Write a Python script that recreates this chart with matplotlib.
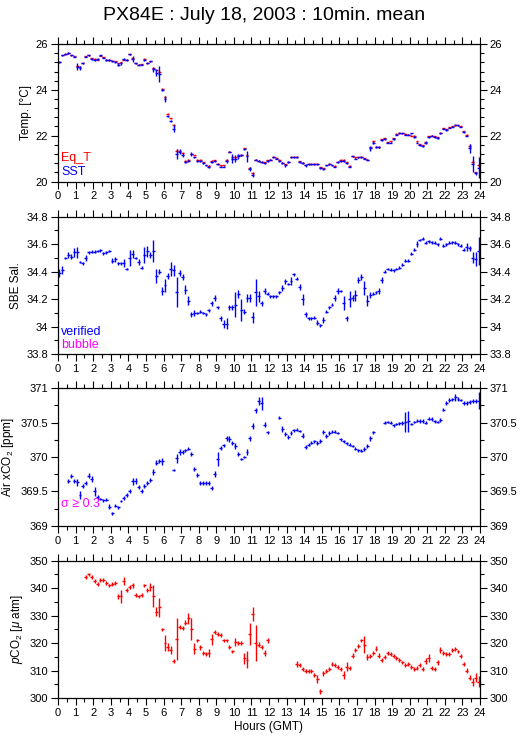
import numpy as np
import matplotlib
matplotlib.use("Agg")
import matplotlib.pyplot as plt
from matplotlib.ticker import MultipleLocator, FuncFormatter

plt.rcParams['font.family'] = ['Liberation Sans', 'DejaVu Sans']
plt.rcParams['mathtext.fontset'] = 'custom'
plt.rcParams['mathtext.rm'] = 'Liberation Sans'
plt.rcParams['mathtext.it'] = 'Liberation Sans:italic'

nan = np.nan
# 10-minute means, 144 per day, centred at (i + 0.5) / 6 hours
hours = (np.arange(144) + 0.5) / 6.0

sst = [25.2, 25.5, 25.55, 25.6, 25.5, 25.45,
       25.0, 24.95, 25.15, 25.45, 25.5, 25.35,
       25.3, 25.35, 25.5, 25.4, 25.3, 25.3,
       25.25, 25.2, 25.1, 25.15, 25.35, 25.3,
       25.55, 25.35, 25.15, 25.1, 25.1, 25.3,
       25.15, 25.25, 24.9, 24.75, 24.7, 24.0,
       23.6, 22.85, 22.65, 22.3, 21.2, 21.3,
       21.15, 20.85, 20.9, 21.2, 21.05, 20.9,
       20.9, 20.8, 20.7, 20.65, 20.85, 20.9,
       20.75, 20.65, 20.65, 20.9, 21.3, 21.0,
       21.0, 21.1, 21.15, 21.4, 21.1, 20.55,
       20.3, 20.95, 20.9, 20.85, 20.8, 20.9,
       20.95, 21.05, 21.0, 20.9, 20.8, 20.7,
       20.85, 21.05, 21.05, 21.05, 20.85, 20.8,
       20.7, 20.75, 20.75, 20.75, 20.75, 20.6,
       20.55, 20.7, 20.75, 20.7, 20.65, 20.85,
       20.9, 20.9, 20.8, 20.65, 21.1, 21.0,
       21.05, 21.05, 21.0, 20.95, 21.45, 21.7,
       21.5, 21.5, 21.8, 21.85, 21.7, 21.7,
       21.85, 22.05, 22.1, 22.1, 22.05, 22.05,
       22.1, 21.95, 21.7, 21.6, 21.55, 21.7,
       21.95, 22.0, 21.95, 21.9, 22.1, 22.3,
       22.25, 22.35, 22.4, 22.45, 22.45, 22.4,
       22.15, 22.0, 21.45, 20.75, 20.35, 20.6]
sst_err = [.03, .03, .03, .03, .03, .03,
           .15, .1, .03, .03, .03, .03,
           .03, .05, .03, .03, .03, .03,
           .03, .03, .05, .05, .03, .03,
           .03, .12, .03, .03, .03, .03,
           .03, .03, .1, .15, .35, .05,
           .12, .05, .05, .15, .22, .1,
           .1, .05, .03, .1, .03, .05,
           .03, .03, .03, .05, .03, .03,
           .03, .03, .03, .1, .03, .2,
           .15, .1, .05, .03, .25, .08,
           .1, .03, .03, .05, .03, .03,
           .03, .03, .03, .03, .05, .05,
           .03, .03, .03, .03, .03, .03,
           .05, .03, .03, .03, .03, .05,
           .05, .03, .03, .03, .03, .03,
           .03, .03, .05, .03, .03, .03,
           .03, .03, .03, .03, .1, .05,
           .03, .03, .05, .03, .03, .03,
           .05, .03, .03, .03, .03, .03,
           .03, .05, .03, .03, .03, .05,
           .03, .03, .03, .03, .03, .03,
           .03, .03, .03, .03, .03, .03,
           .05, .03, .2, .35, .05, .45]
eqt = [25.22, 25.52, 25.58, 25.6, 25.52, 25.47,
       25.05, 25.0, 25.18, 25.47, 25.5, 25.38,
       25.35, 25.32, 25.48, 25.42, 25.32, 25.3,
       25.28, 25.25, 25.15, 25.2, 25.32, 25.32,
       25.55, 25.38, 25.15, 25.1, 25.12, 25.35,
       25.18, 25.25, 24.95, 24.85, 24.8, 24.05,
       23.7, 22.95, 22.75, 22.45, 21.35, 21.35,
       21.25, 20.9, 20.95, 21.2, 21.15, 20.95,
       20.95, 20.85, 20.72, 20.68, 20.9, 20.92,
       20.78, 20.7, 20.7, 20.92, 21.3, 21.05,
       21.05, 21.15, 21.15, 21.45, 21.15, 20.6,
       20.35, 20.95, 20.9, 20.85, 20.85, 20.92,
       20.95, 21.08, 21.03, 20.95, 20.82, 20.75,
       20.85, 21.08, 21.08, 21.08, 20.88, 20.82,
       20.72, 20.78, 20.78, 20.78, 20.78, 20.62,
       20.58, 20.72, 20.78, 20.72, 20.68, 20.85,
       20.95, 20.95, 20.85, 20.68, 21.1, 21.05,
       21.05, 21.08, 21.02, 20.95, 21.5, 21.75,
       21.52, 21.5, 21.85, 21.88, 21.72, 21.75,
       21.88, 22.08, 22.12, 22.1, 22.08, 22.05,
       22.0, 22.0, 21.75, 21.62, 21.58, 21.72,
       21.98, 22.0, 21.98, 21.92, 22.12, 22.32,
       22.28, 22.38, 22.42, 22.48, 22.45, 22.42,
       22.2, 22.05, 21.55, 20.85, 20.4, 20.7]
eqt_err = [.02] * 36 + [.05, .02, .02, .05, .05, .02] + [.02] * 96 + [.02, .02, .1, .1, .02, .02]

sal = [34.39, 34.41, 34.5, 34.52, 34.51, 34.54,
       34.54, 34.47, 34.46, 34.5, 34.54, 34.545,
       34.545, 34.55, 34.555, 34.535, 34.54, 34.55,
       34.48, 34.49, 34.46, 34.46, 34.465, 34.42,
       34.5, 34.53, 34.5, 34.47, 34.43, 34.52,
       34.55, 34.52, 34.55, 34.37, 34.4, 34.26,
       34.3, 34.37, 34.42, 34.41, 34.25, 34.39,
       34.36, 34.27, 34.19, 34.09, 34.1, 34.1,
       34.11, 34.1, 34.09, 34.12, 34.17, 34.21,
       34.14, 34.06, 34.02, 34.02, 34.14, 34.14,
       34.16, 34.24, 34.12, 34.11, 34.21, 34.21,
       34.07, 34.25, 34.22, 34.17, 34.26, 34.24,
       34.22, 34.22, 34.22, 34.25, 34.28, 34.33,
       34.31, 34.33, 34.38, 34.35, 34.29, 34.2,
       34.09, 34.06, 34.06, 34.065, 34.03, 34.01,
       34.05, 34.11, 34.14, 34.16, 34.21, 34.26,
       34.26, 34.17, 34.06, 34.2, 34.21, 34.23,
       34.34, 34.36, 34.28, 34.19, 34.23, 34.24,
       34.25, 34.26, 34.34, 34.4, 34.42, 34.415,
       34.41, 34.42, 34.43, 34.45, 34.48, 34.48,
       34.53, 34.56, 34.6, 34.63, 34.64, 34.61,
       34.62, 34.615, 34.61, 34.6, 34.64, 34.59,
       34.6, 34.61, 34.615, 34.61, 34.6, 34.59,
       34.56, 34.58, 34.57, 34.5, 34.49, 34.55]
sal_err = [.03, .03, .01, .02, .02, .03,
           .04, .01, .01, .02, .01, .01,
           .01, .01, .01, .01, .01, .01,
           .02, .02, .01, .01, .03, .01,
           .06, .03, .01, .02, .01, .06,
           .04, .02, .08, .05, .02, .03,
           .05, .02, .05, .04, .11, .02,
           .02, .03, .03, .02, .02, .01,
           .01, .01, .01, .01, .02, .02,
           .01, .02, .03, .04, .02, .02,
           .09, .03, .08, .02, .03, .03,
           .04, .1, .04, .02, .02, .01,
           .01, .01, .01, .01, .02, .02,
           .01, .03, .01, .01, .02, .04,
           .02, .01, .01, .01, .02, .01,
           .02, .01, .01, .01, .02, .02,
           .01, .05, .02, .06, .02, .04,
           .02, .02, .05, .04, .02, .01,
           .01, .02, .02, .01, .01, .01,
           .01, .01, .01, .01, .01, .01,
           .01, .01, .02, .01, .01, .01,
           .01, .01, .01, .01, .01, .01,
           .01, .01, .01, .01, .01, .01,
           .01, .03, .02, .04, .05, .1]

xco2 = [nan, nan, nan, 369.65, 369.72, 369.65,
        369.63, 369.45, 369.58, 369.62, 369.73, 369.68,
        369.5, 369.42, 369.39, 369.37, 369.38, 369.28,
        369.18, 369.29, 369.27, 369.36, 369.4, 369.45,
        369.5, 369.65, 369.65, 369.57, 369.5, 369.58,
        369.62, 369.67, 369.78, 369.92, 369.94, 369.94,
        nan, nan, nan, 369.81, 369.98, 370.07,
        370.07, 370.1, 370.12, 370.04, 369.82, 369.74,
        369.62, 369.62, 369.62, 369.62, 369.55, 369.75,
        369.97, 370.13, 370.17, 370.27, 370.26, 370.2,
        370.16, 370.05, 369.97, 370.0, 370.07, 370.27,
        370.45, 370.68, 370.82, 370.78, 370.47, 370.36,
        nan, nan, nan, 370.57, 370.41, 370.33,
        370.29, 370.35, 370.39, 370.4, 370.38, 370.31,
        370.14, 370.18, 370.21, 370.23, 370.2, 370.23,
        370.37, 370.3, 370.35, 370.37, 370.37, 370.35,
        370.26, 370.23, 370.2, 370.18, 370.16, 370.12,
        370.1, 370.09, 370.12, 370.16, 370.27, 370.36,
        nan, nan, nan, 370.5, 370.51, 370.5,
        370.46, 370.48, 370.49, 370.5, 370.51, 370.52,
        370.48, 370.51, 370.53, 370.53, 370.53, 370.5,
        370.56, 370.55, 370.52, 370.51, 370.54, 370.69,
        370.78, 370.83, 370.84, 370.87, 370.84, 370.83,
        370.78, 370.78, 370.8, 370.81, 370.81, 370.82]
xco2_err = [.03, .03, .03, .03, .03, .03,
            .05, .06, .03, .03, .04, .04,
            .06, .03, .02, .02, .02, .03,
            .02, .02, .02, .02, .03, .03,
            .03, .05, .04, .03, .03, .03,
            .03, .03, .04, .03, .03, .05,
            .03, .03, .03, .02, .06, .04,
            .03, .02, .02, .03, .03, .03,
            .03, .03, .03, .03, .03, .04,
            .1, .03, .02, .04, .04, .03,
            .04, .03, .02, .02, .04, .04,
            .04, .04, .06, .1, .04, .02,
            .03, .03, .03, .02, .04, .03,
            .03, .03, .02, .02, .02, .04,
            .03, .02, .02, .02, .03, .03,
            .03, .03, .03, .02, .02, .02,
            .02, .02, .02, .02, .02, .02,
            .02, .02, .03, .03, .03, .02,
            .03, .03, .03, .02, .02, .02,
            .02, .02, .02, .03, .15, .15,
            .02, .02, .02, .03, .03, .02,
            .02, .03, .02, .02, .03, .02,
            .03, .03, .02, .05, .03, .02,
            .03, .03, .03, .03, .03, .12]

pco2 = [nan, nan, nan, nan, nan, nan,
        nan, nan, nan, 344.0, 345.0, 344.0,
        342.5, 341.5, 343.0, 343.0, 342.0, 341.0,
        341.5, 342.0, 337.0, 337.0, 342.5, 339.5,
        340.5, 341.0, 337.5, 337.0, 337.5, 341.0,
        339.5, 340.5, 337.0, 331.5, 333.0, 325.0,
        320.0, 318.5, 317.5, 313.5, 321.5, 326.0,
        325.5, 327.5, 329.0, 325.0, 318.0, 321.0,
        318.5, 316.5, 316.0, 316.5, 321.5, 324.0,
        323.5, 323.0, 321.0, 321.0, 318.5, 317.0,
        320.5, 320.0, 320.0, 314.5, 314.0, 323.5,
        330.5, 320.0, 319.5, 318.5, 316.5, 321.0,
        nan, nan, nan, nan, nan, nan,
        nan, nan, nan, 312.5, 312.0, 310.5,
        310.0, 310.0, 310.0, 308.5, 307.0, 302.5,
        309.0, 310.0, 310.5, 312.5, 312.0, 311.5,
        310.5, 308.5, 311.5, 311.0, 315.5, 317.5,
        319.0, 321.0, 319.5, 315.0, 315.5, 316.5,
        318.0, 315.5, 314.0, 315.0, 316.5, 316.0,
        315.5, 314.5, 314.0, 313.0, 312.0, 312.5,
        311.5, 310.5, 311.0, 312.0, 310.5, 313.5,
        314.5, 311.0, 310.5, 313.0, 317.5, 316.5,
        316.0, 316.0, 317.5, 318.0, 317.0, 315.5,
        312.5, 310.0, 307.5, 306.0, 307.5, 306.0]
pco2_err = [.7] * 9 + [.7, .7, .7,
            .7, .7, .7, .7, .7, .7,
            .7, .7, 1.0, 2.5, 1.5, .7,
            .7, 1.0, .7, .7, .7, .7,
            .7, 1.5, 4.0, 1.5, 3.5, .7,
            3.0, 1.5, 1.5, .7, 7.5, .7,
            .7, 1.0, 2.0, 4.0, 2.0, .7,
            1.0, .7, .7, 1.5, 2.0, .7,
            .7, .7, .7, .7, .7, .7,
            1.5, .7, .7, 2.0, 3.0, 4.0,
            2.5, 6.5, 1.0, .7, 1.0, 1.0] + [.7] * 9 + [
            1.0, .7, .7,
            .7, .7, .7, .7, 1.5, 1.0,
            1.0, .7, .7, .7, .7, .7,
            .7, 1.5, 1.5, .7, 1.0, .7,
            .7, .7, 3.0, 1.0, .7, .7,
            1.0, 1.0, .7, .7, .7, .7,
            .7, .7, .7, .7, .7, .7,
            .7, .7, .7, .7, .7, 1.0,
            1.5, .7, .7, 1.0, 1.0, .7,
            .7, .7, .7, .7, .7, .7,
            .7, 1.0, 1.0, 1.5, 1.5, 2.0]

RED, BLUE, MAG = '#ff0000', '#0000ff', '#ff00ff'
HALF = 1.0 / 12.0  # half of a 10-minute bin

fig = plt.figure(figsize=(5.29, 7.39), dpi=100)
L, W = 58 / 529, 422 / 529
tops = [44, 216.7, 388.3, 560.7]
H = 137.5

panels = [
    dict(ylim=(20, 26), major=2, minor=0.4, ylabel='Temp. [°C]'),
    dict(ylim=(33.8, 34.8), major=0.2, minor=0.1, ylabel='SBE Sal.'),
    dict(ylim=(369, 371), major=0.5, minor=0.25, ylabel='Air xCO$_2$ [ppm]'),
    dict(ylim=(300, 350), major=10, minor=5, ylabel='$p$CO$_2$ [$\\mu$ atm]'),
]
axes = []
for k, p in enumerate(panels):
    ax = fig.add_axes([L, 1 - (tops[k] + H) / 739, W, H / 739])
    ax.set_xlim(0, 24)
    ax.set_ylim(*p['ylim'])
    ax.xaxis.set_major_locator(MultipleLocator(1))
    ax.xaxis.set_minor_locator(MultipleLocator(0.5))
    ax.yaxis.set_major_locator(MultipleLocator(p['major']))
    ax.yaxis.set_minor_locator(MultipleLocator(p['minor']))
    ax.yaxis.set_major_formatter(FuncFormatter(lambda v, pos: '%g' % round(v, 3)))
    ax.xaxis.set_major_formatter(FuncFormatter(lambda v, pos: '%d' % round(v)))
    ax.tick_params(which='both', direction='out', top=True, right=True,
                   labelright=True, labelsize=8, width=0.8, pad=2)
    ax.tick_params(which='major', length=5)
    ax.tick_params(which='minor', length=3)
    for s in ax.spines.values():
        s.set_linewidth(0.9)
    ax.set_ylabel(p['ylabel'], fontsize=8.5, labelpad=3)
    axes.append(ax)

ekw = dict(fmt='none', elinewidth=1.0, capsize=0)
ax = axes[0]
ax.errorbar(hours, eqt, yerr=eqt_err, xerr=HALF, ecolor=RED, **ekw)
ax.errorbar(hours, sst, yerr=sst_err, xerr=HALF, ecolor=BLUE, **ekw)
ax.text(0.007, 0.17, 'Eq_T', color=RED, fontsize=9, transform=ax.transAxes, va='center')
ax.text(0.007, 0.07, 'SST', color=BLUE, fontsize=9, transform=ax.transAxes, va='center')

ax = axes[1]
ax.errorbar(hours, sal, yerr=sal_err, xerr=HALF, ecolor=BLUE, **ekw)
ax.text(0.007, 0.16, 'verified', color=BLUE, fontsize=9, transform=ax.transAxes, va='center')
ax.text(0.007, 0.065, 'bubble', color=MAG, fontsize=9, transform=ax.transAxes, va='center')

ax = axes[2]
ax.errorbar(hours, xco2, yerr=xco2_err, xerr=HALF, ecolor=BLUE, **ekw)
ax.text(0.007, 0.16, 'σ ≥ 0.3', color=MAG, fontsize=9, transform=ax.transAxes, va='center')

ax = axes[3]
ax.errorbar(hours, pco2, yerr=pco2_err, xerr=HALF, ecolor=RED, **ekw)
ax.set_xlabel('Hours (GMT)', fontsize=8.5, labelpad=2)

fig.text(0.5, 1 - 16 / 739, 'PX84E : July 18, 2003 : 10min. mean',
         ha='center', va='center', fontsize=14)

fig.savefig('out.png', dpi=100)
